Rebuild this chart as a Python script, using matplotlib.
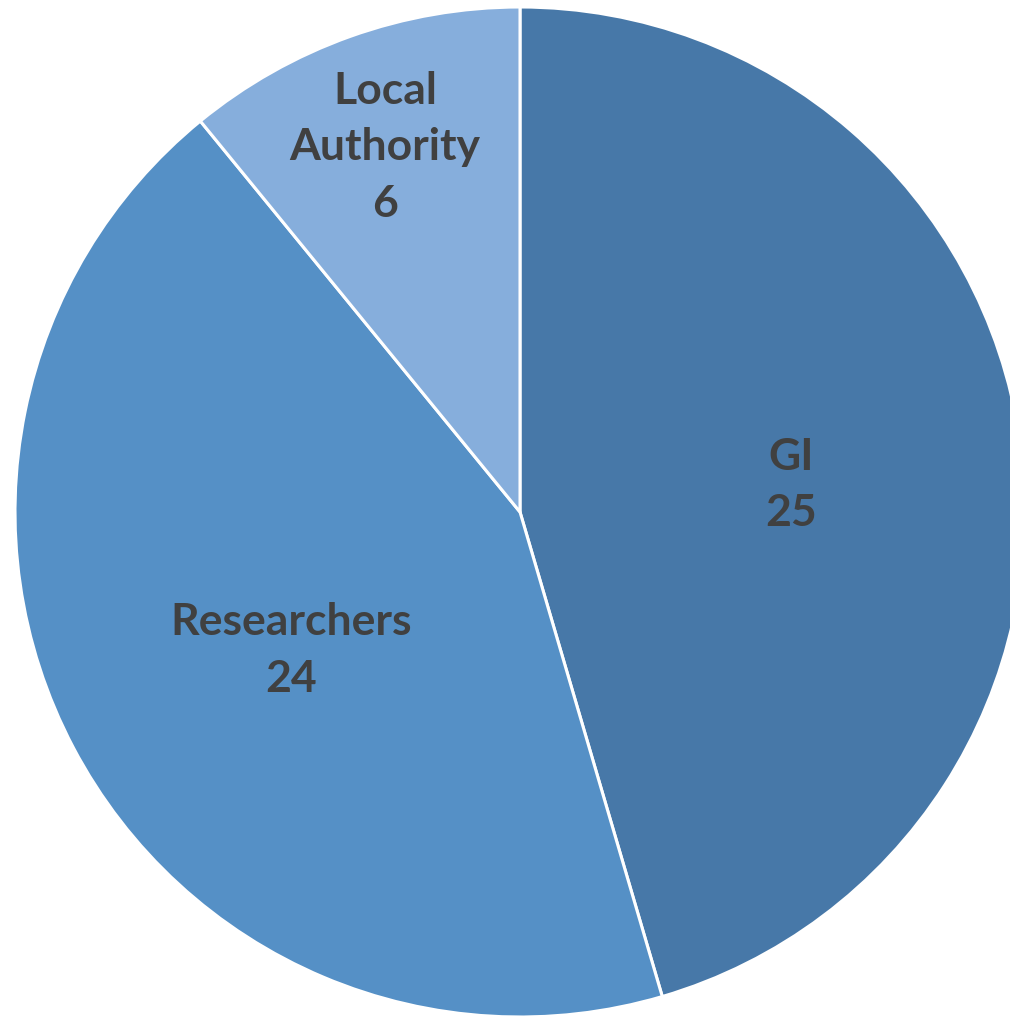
import numpy as np
import matplotlib.pyplot as plt

# Data
labels = ['GI', 'Researchers', 'Local\nAuthority']
values = [25, 24, 6]
colors = ['#4778A8', '#5590C6', '#86AEDC']
# label placement (fraction of radius, angle tweak in degrees)
label_dist = [0.54, 0.53, 0.77]
label_turn = [-2.5, 3.3, 0.7]

fig = plt.figure(figsize=(10.10, 10.16), dpi=100)
ax = fig.add_axes([0, 0, 1, 1])

R = 505
cx, cy = 520, 1016 - 512
wedges, _ = ax.pie(values, colors=colors, startangle=90, counterclock=False,
                   radius=R, center=(cx, cy),
                   wedgeprops=dict(edgecolor='white', linewidth=2.2))

for w, lab, v, d, t in zip(wedges, labels, values, label_dist, label_turn):
    ang = np.deg2rad((w.theta1 + w.theta2) / 2 + t)
    x = cx + d * R * np.cos(ang)
    y = cy + d * R * np.sin(ang)
    ax.text(x, y, f'{lab}\n{v}', ha='center', va='center', fontsize=32,
            fontweight='bold', color='#404040', family='Lato', linespacing=1.5)

ax.set_xlim(0, 1010)
ax.set_ylim(0, 1016)
ax.set_aspect('equal')
ax.axis('off')

fig.savefig('out.png', dpi=100)
